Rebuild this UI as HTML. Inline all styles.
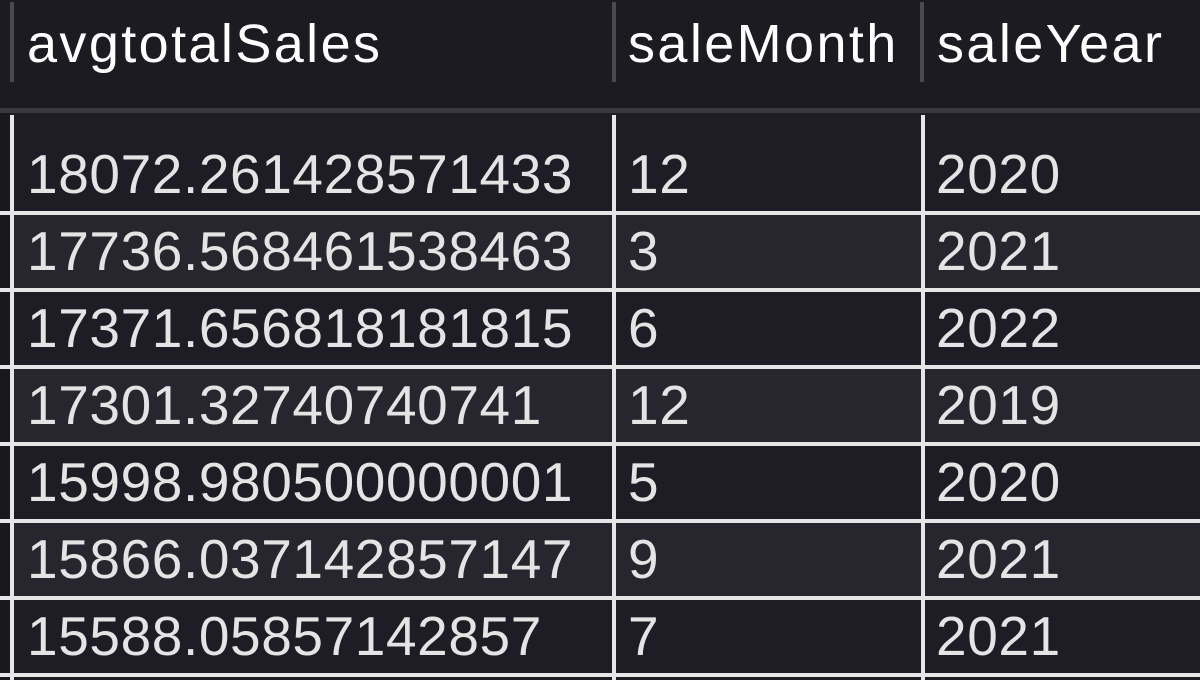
<!DOCTYPE html>
<html><head><meta charset="utf-8"><style>
body{margin:0;width:1200px;height:680px;overflow:hidden;background:#1d1b22;font-family:"Liberation Sans",sans-serif;position:relative}
div{position:absolute}
.hd{top:0;left:0;width:1200px;height:108px;background:#1d1b22}
.hsep{top:108px;left:0;width:1200px;height:5px;background:#3a3940}
.hv{top:2px;width:4px;height:80px;background:#4a4950}
.ht{top:13px;font-size:54px;color:#fff;letter-spacing:2.4px;line-height:62px;white-space:nowrap}
.row{left:14px;width:1186px;height:73px}
.rl{left:0;width:1200px;height:4px;background:#e6e6e6}
.vl{width:4px;background:#e6e6e6;top:115px;height:565px}
.cell{font-size:55px;color:#e4e4e4;line-height:60px;white-space:nowrap;letter-spacing:0.6px}
</style></head><body>
<div class="hd"></div>
<div class="hv" style="left:10px"></div>
<div class="hv" style="left:612px"></div>
<div class="hv" style="left:920px"></div>
<div class="ht" style="left:27px">avgtotalSales</div>
<div class="ht" style="left:628px">saleMonth</div>
<div class="ht" style="left:937px">saleYear</div>
<div class="hsep"></div>
<div style="left:0;top:113px;width:10px;height:567px;background:#19181c"></div>
<div id="body"></div>
<script>
const sales=["18072.261428571433","17736.568461538463","17371.656818181815","17301.32740740741","15998.980500000001","15866.037142857147","15588.05857142857"];
const months=["12","3","6","12","5","9","7"];
const years=["2020","2021","2022","2019","2020","2021","2021"];
const b=document.getElementById('body');
function mk(cls,style,name,inter,text){const e=document.createElement('div');e.className=cls;e.style.cssText=style;


if(text!==undefined)e.textContent=text;b.appendChild(e);return e;}
for(let i=0;i<sales.length;i++){
  const bottom=211+i*77;
  const top=i===0?113:bottom-73;
  mk('row','top:'+top+'px;height:'+(bottom-top)+'px;background:'+(i%2?'#27252d':'#1e1c24'),'table-row','true');
  mk('rl','top:'+bottom+'px','row-separator','false');
  const base=192+i*77;
  mk('cell','left:27px;top:'+(base-48)+'px','cell-avgtotalsales','true',sales[i]);
  mk('cell','left:628px;top:'+(base-48)+'px','cell-salemonth','true',months[i]);
  mk('cell','left:936px;top:'+(base-48)+'px','cell-saleyear','true',years[i]);
}
mk('vl','left:10px','column-divider','false');
mk('vl','left:612px','column-divider','false');
mk('vl','left:921px','column-divider','false');
</script>
</body></html>
